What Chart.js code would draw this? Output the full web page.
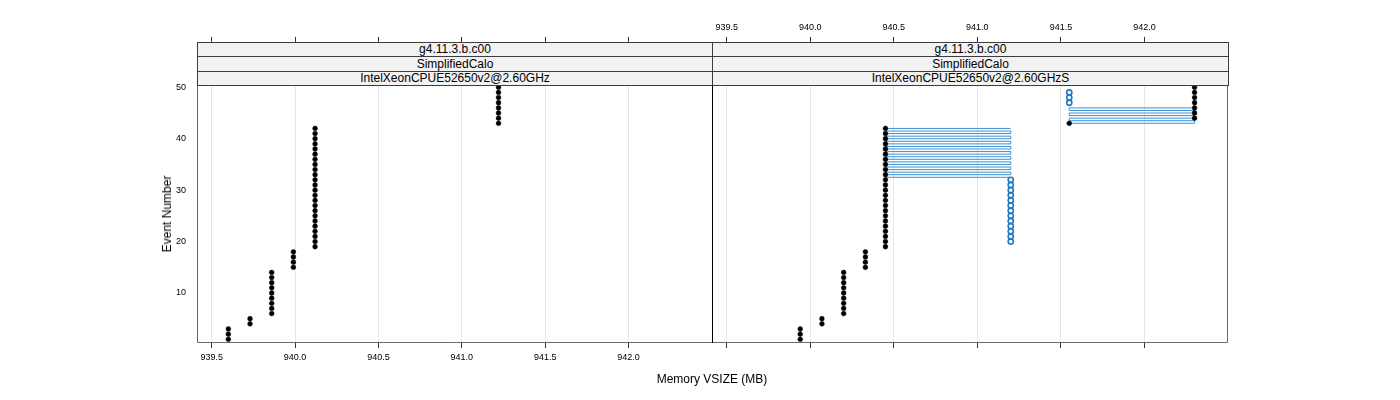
<!DOCTYPE html>
<html>
<head>
<meta charset="utf-8">
<script src="https://cdn.jsdelivr.net/npm/chart.js@4.4.1/dist/chart.umd.min.js"></script>
<style>
  body { margin: 0; background: #fff; font-family: "Liberation Sans", Arial, sans-serif; }
  #wrap { position: relative; width: 1400px; height: 400px; overflow: hidden; }
  canvas { position: absolute; top: 0; }
  .strip { position: absolute; box-sizing: border-box; border: 1px solid #3c3c3c; background: #f2f2f2;
           font-size: 12px; text-align: center; color: #000; white-space: nowrap; }
  .title { position: absolute; font-size: 12px; color: #000; white-space: nowrap;
           transform: translate(-50%, -50%); }
</style>
</head>
<body>
<div id="wrap">
  <canvas id="left" width="555" height="400" style="left:157px"></canvas>
  <canvas id="right" width="518" height="400" style="left:712px"></canvas>

  <div class="strip" style="left:197px;top:42px;width:516px;height:15px;line-height:13px">g4.11.3.b.c00</div>
  <div class="strip" style="left:197px;top:56px;width:516px;height:16px;line-height:14px">SimplifiedCalo</div>
  <div class="strip" style="left:197px;top:71px;width:516px;height:15px;line-height:13px">IntelXeonCPUE52650v2@2.60GHz</div>
  <div class="strip" style="left:712px;top:42px;width:517px;height:15px;line-height:13px">g4.11.3.b.c00</div>
  <div class="strip" style="left:712px;top:56px;width:517px;height:16px;line-height:14px">SimplifiedCalo</div>
  <div class="strip" style="left:712px;top:71px;width:517px;height:15px;line-height:13px">IntelXeonCPUE52650v2@2.60GHzS</div>

  <div class="title" style="left:712px;top:379px">Memory VSIZE (MB)</div>
  <div class="title" style="left:167px;top:214px;transform:translate(-50%,-50%) rotate(-90deg)">Event Number</div>
</div>

<script>
const fontFamily = '"Liberation Sans", Arial, sans-serif'
const blue = '#1f78c1'
const blueLine = '#3b91d4'

// event numbers (y)
const events = [1, 2, 3, 4, 5, 6, 7, 8, 9, 10, 11, 12, 13, 14, 15, 16, 17, 18, 19, 20,
  21, 22, 23, 24, 25, 26, 27, 28, 29, 30, 31, 32, 33, 34, 35, 36, 37, 38, 39, 40,
  41, 42, 43, 44, 45, 46, 47, 48, 49, 50]

// memory VSIZE (MB) per event, left panel
const leftMem = [939.60, 939.60, 939.60, 939.73, 939.73,
  939.86, 939.86, 939.86, 939.86, 939.86, 939.86, 939.86, 939.86, 939.86,
  939.99, 939.99, 939.99, 939.99,
  940.12, 940.12, 940.12, 940.12, 940.12, 940.12, 940.12, 940.12, 940.12, 940.12, 940.12, 940.12,
  940.12, 940.12, 940.12, 940.12, 940.12, 940.12, 940.12, 940.12, 940.12, 940.12, 940.12, 940.12,
  941.22, 941.22, 941.22, 941.22, 941.22, 941.22, 941.22, 941.22]

// memory VSIZE (MB) per event, right panel
const rightMem = [939.94, 939.94, 939.94, 940.07, 940.07,
  940.20, 940.20, 940.20, 940.20, 940.20, 940.20, 940.20, 940.20, 940.20,
  940.33, 940.33, 940.33, 940.33,
  940.45, 940.45, 940.45, 940.45, 940.45, 940.45, 940.45, 940.45, 940.45, 940.45, 940.45, 940.45,
  940.45, 940.45, 940.45, 940.45, 940.45, 940.45, 940.45, 940.45, 940.45, 940.45, 940.45, 940.45,
  941.55, 942.30, 942.30, 942.30, 942.30, 942.30, 942.30, 942.30]

// blue open circles, right panel
const blueEvents = [20, 21, 22, 23, 24, 25, 26, 27, 28, 29, 30, 31, 32, 47, 48, 49]
const blueMem = [941.20, 941.20, 941.20, 941.20, 941.20, 941.20, 941.20, 941.20, 941.20,
  941.20, 941.20, 941.20, 941.20, 941.55, 941.55, 941.55]

// blue line runs, right panel
const blueLowLevels = [32.5, 33, 33.5, 34, 34.5, 35, 35.5, 36, 36.5, 37, 37.5, 38, 38.5, 39, 39.5,
  40, 40.5, 41, 41.5, 42]
const blueLowEnds = [941.20, 940.45]
const blueHighLevels = [43, 43.5, 44, 44.5, 45, 45.5, 46]
const blueHighEnds = [941.55, 942.30]

const xTicks = [939.5, 940.0, 940.5, 941.0, 941.5, 942.0]
const yTicks = [10, 20, 30, 40, 50]

const toPoints = (xs, ys) => xs.map((x, i) => ({ x: x, y: ys[i] }))

const runPath = (levels, ends) => {
  const pts = []
  levels.forEach((lv, i) => {
    pts.push({ x: ends[i % 2], y: lv }, { x: ends[(i + 1) % 2], y: lv })
  })
  return pts
}

const setXTicks = (scale) => { scale.ticks = xTicks.map(v => ({ value: v })) }
const setYTicks = (scale) => { scale.ticks = yTicks.map(v => ({ value: v })) }

const noPadding = (s) => {
  s.paddingLeft = 0
  s.paddingRight = 0
  s.paddingTop = 0
  s.paddingBottom = 0
}

const tickFont = { size: 9, family: fontFamily }

const xAxis = (position, showLabels, height) => ({
  type: 'linear',
  position: position,
  min: 939.412,
  max: 942.50,
  afterBuildTicks: setXTicks,
  afterFit: (s) => { s.height = height; noPadding(s) },
  grid: {
    display: true,
    drawOnChartArea: position === 'bottom',
    color: '#e6e6e6',
    tickColor: '#333',
    tickLength: 5
  },
  border: { display: false },
  ticks: {
    display: showLabels,
    font: tickFont,
    color: '#000',
    padding: 4,
    maxRotation: 0,
    autoSkip: false,
    callback: (v) => v.toFixed(1)
  }
})

const yAxis = (show) => ({
  type: 'linear',
  position: 'left',
  display: show,
  min: 0.28,
  max: 58.81,
  afterBuildTicks: setYTicks,
  afterFit: (s) => { s.width = show ? 40 : 0; noPadding(s) },
  grid: { display: false, drawTicks: false },
  border: { display: false },
  ticks: { font: tickFont, color: '#000', padding: 11 }
})

// panel frame; the divider between panels is black
const framePlugin = (side) => ({
  id: 'frame',
  afterDraw(chart) {
    const ctx = chart.ctx
    const a = chart.chartArea
    ctx.save()
    ctx.lineWidth = 1
    ctx.strokeStyle = '#6a6a6a'
    ctx.beginPath()
    if (side === 'left') {
      ctx.moveTo(a.left + 0.5, a.top)
      ctx.lineTo(a.left + 0.5, a.bottom - 0.5)
      ctx.lineTo(a.right, a.bottom - 0.5)
    } else {
      ctx.moveTo(a.left, a.bottom - 0.5)
      ctx.lineTo(a.right - 0.5, a.bottom - 0.5)
      ctx.lineTo(a.right - 0.5, a.top)
    }
    ctx.stroke()
    if (side === 'right') {
      ctx.strokeStyle = '#000'
      ctx.beginPath()
      ctx.moveTo(a.left + 0.5, a.top)
      ctx.lineTo(a.left + 0.5, a.bottom)
      ctx.stroke()
    }
    ctx.restore()
  }
})

const blackDots = (mem) => ({
  data: toPoints(mem, events),
  pointRadius: 2.4,
  pointBackgroundColor: '#000',
  pointBorderColor: '#000',
  pointBorderWidth: 0.5,
  showLine: false
})

const baseOptions = (side) => ({
  responsive: false,
  animation: false,
  layout: {
    autoPadding: false,
    padding: { left: 0, right: side === 'right' ? 2 : 0, top: 0, bottom: 0 }
  },
  plugins: { legend: { display: false }, tooltip: { enabled: false } },
  scales: {
    x: xAxis('bottom', side === 'left', 57),
    x2: xAxis('top', side === 'right', 42),
    y: yAxis(side === 'left')
  }
})

new Chart(document.getElementById('left'), {
  type: 'scatter',
  data: { datasets: [blackDots(leftMem)] },
  options: baseOptions('left'),
  plugins: [framePlugin('left')]
})

new Chart(document.getElementById('right'), {
  type: 'scatter',
  data: {
    datasets: [
      blackDots(rightMem),
      {
        data: toPoints(blueMem, blueEvents),
        pointRadius: 2.6,
        pointBackgroundColor: 'rgba(0,0,0,0)',
        pointBorderColor: blue,
        pointBorderWidth: 1.6,
        showLine: false
      },
      {
        data: runPath(blueLowLevels, blueLowEnds),
        showLine: true,
        borderColor: blueLine,
        borderWidth: 1,
        pointRadius: 0,
        tension: 0
      },
      {
        data: runPath(blueHighLevels, blueHighEnds),
        showLine: true,
        borderColor: blueLine,
        borderWidth: 1,
        pointRadius: 0,
        tension: 0
      }
    ]
  },
  options: baseOptions('right'),
  plugins: [framePlugin('right')]
})
</script>
</body>
</html>
